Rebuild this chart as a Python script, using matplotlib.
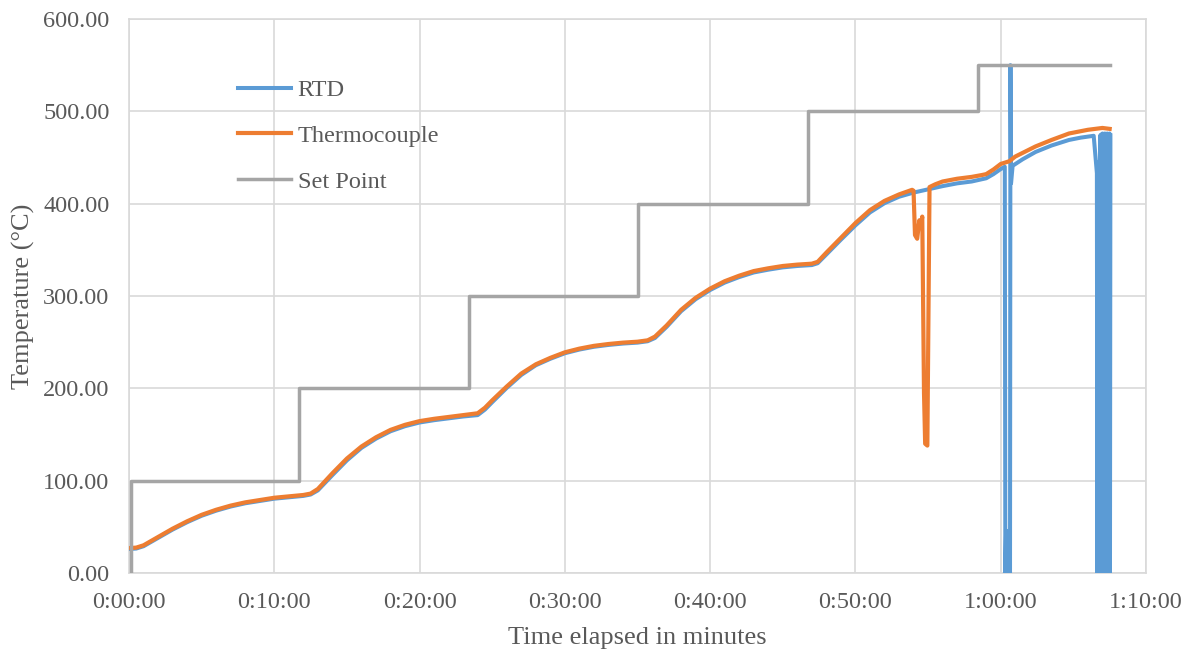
import matplotlib
matplotlib.use("Agg")
import matplotlib.pyplot as plt
from matplotlib.ticker import FuncFormatter, MultipleLocator

# Time in minutes, temperature in degC
tc_time = [0, 0.5, 1, 2, 3, 4, 5, 6, 7, 8, 9, 10, 11, 12, 12.5, 13, 14, 15, 16, 17,
           18, 19, 20, 21, 22, 23, 24, 24.5, 25, 26, 27, 28, 29, 30, 31, 32, 33, 34,
           35, 35.7, 36.2, 37, 38, 39, 40, 41, 42, 43, 44, 45, 46, 47, 47.4, 48, 49,
           50, 51, 52, 53, 53.9, 54.0, 54.1, 54.25, 54.4, 54.5, 54.6, 54.72, 54.8,
           54.95, 55.1, 55.5, 56, 57, 58, 58.7, 59.0, 59.5, 60.0, 60.6, 61.0, 62.4,
           63.5, 64.7, 66.0, 67.0, 67.5]
tc_temp = [27, 27.5, 30, 39, 48, 56, 63, 68.5, 73, 76.5, 79, 81.5, 83, 84.5, 86, 91,
           108, 124, 137, 147, 155, 160.5, 164.5, 167, 169, 171, 173, 179, 187, 202,
           216, 226, 233, 239, 243, 246, 248, 249.5, 250.5, 252, 256, 268, 285, 298,
           308, 316, 322, 327, 330, 332.5, 334, 335, 337, 347, 363, 379, 393, 403,
           410, 415, 414, 366, 362, 382, 375, 386, 195, 140, 138, 418, 421, 424, 427,
           429, 431, 432, 437, 443, 446, 451, 462, 469, 476, 480, 482, 481]

rtd_time = [0, 0.5, 1, 2, 3, 4, 5, 6, 7, 8, 9, 10, 11, 12, 12.5, 13, 14, 15, 16, 17,
            18, 19, 20, 21, 22, 23, 24, 24.5, 25, 26, 27, 28, 29, 30, 31, 32, 33, 34,
            35, 35.7, 36.2, 37, 38, 39, 40, 41, 42, 43, 44, 45, 46, 47, 47.4, 48, 49,
            50, 51, 52, 53, 54, 55, 56, 57, 58, 59, 59.5, 60.0, 60.28,
            60.32, 60.37, 60.42, 60.47, 60.52, 60.56, 60.6, 60.64, 60.67, 60.71, 60.82,
            61.5, 62.4, 63.5, 64.7, 65.5, 66.4, 66.62,
            66.65, 66.69, 66.73, 66.77, 66.81, 66.85, 66.89, 66.93, 66.97, 67.01, 67.05,
            67.09, 67.13, 67.17, 67.21, 67.25, 67.29, 67.33, 67.37, 67.41, 67.45, 67.49,
            67.52, 67.55]
rtd_temp = [26, 26.5, 29, 38, 47, 55, 62, 67.5, 72, 75.5, 78, 80.5, 82, 83.5, 85, 89.5,
            106, 122, 135.5, 145.5, 153.5, 159, 163, 165.5, 167.5, 169.5, 171, 177, 185,
            200.5, 214.5, 225, 232, 238, 242, 245, 247, 248.5, 249.5, 251, 254.5, 266.5,
            283.5, 296.5, 306.5, 314.5, 320.5, 325.5, 328.5, 331, 332.5, 333.5, 335.5,
            345, 361, 376.5, 390.5, 400.5, 407.5, 412, 415.5, 419, 422, 424, 427.5, 432,
            437.5, 440,
            0, 46, 0, 27, 27, 0, 44, 0, 550, 422, 441,
            448, 456, 463, 469, 471.5, 473.5, 433,
            0, 440, 0, 445, 0, 474, 0, 475, 0, 476, 0,
            475, 0, 476, 0, 475, 0, 476, 0, 475, 0, 476,
            0, 474]

sp_time = [0.12, 0.15, 11.68, 23.4, 35.05, 46.74, 58.46, 67.5]
sp_temp = [0, 100, 200, 300, 400, 500, 550, 550]

GREY_TEXT = "#595959"
GRID = "#d9d9d9"

plt.rcParams["font.family"] = ["Liberation Serif", "DejaVu Serif"]

fig = plt.figure(figsize=(11.9, 6.53), dpi=100)
ax = fig.add_axes([129 / 1190, 1 - 573 / 653, (1146 - 129) / 1190, (573 - 19) / 653])

ax.plot(rtd_time, rtd_temp, color="#5b9bd5", lw=2.9, label="RTD", zorder=3,
        solid_joinstyle="round")
ax.plot(tc_time, tc_temp, color="#ed7d31", lw=3.0, label="Thermocouple", zorder=4,
        solid_joinstyle="round")
ax.plot(sp_time, sp_temp, color="#a5a5a5", lw=2.5, drawstyle="steps-post",
        label="Set Point", zorder=5)

ax.set_xlim(0, 70)
ax.set_ylim(0, 600)
ax.xaxis.set_major_locator(MultipleLocator(10))
ax.yaxis.set_major_locator(MultipleLocator(100))


def hms(x, pos):
    total = int(round(x * 60))
    return f"{total // 3600}:{(total % 3600) // 60:02d}:{total % 60:02d}"


ax.xaxis.set_major_formatter(FuncFormatter(hms))
ax.yaxis.set_major_formatter(FuncFormatter(lambda v, p: f"{v:.2f}"))

ax.grid(True, color=GRID, lw=1.2)
ax.set_axisbelow(True)
for s in ax.spines.values():
    s.set_color(GRID)
    s.set_linewidth(1.2)
ax.tick_params(length=0, labelsize=17.5, labelcolor=GREY_TEXT, pad=14)

ax.set_xlabel("Time elapsed in minutes", fontsize=19, color=GREY_TEXT, labelpad=10)
ax.set_ylabel("Temperature (°C)", fontsize=19, color=GREY_TEXT, labelpad=6)

ax.legend(loc="upper left", bbox_to_anchor=(238 / 1190, 1 - 79 / 653),
          bbox_transform=fig.transFigure, frameon=False, fontsize=17.5,
          handlelength=2.2, handletextpad=0.25, labelspacing=0.98,
          borderpad=0, borderaxespad=0, labelcolor=GREY_TEXT)

fig.savefig("out.png", dpi=100)
